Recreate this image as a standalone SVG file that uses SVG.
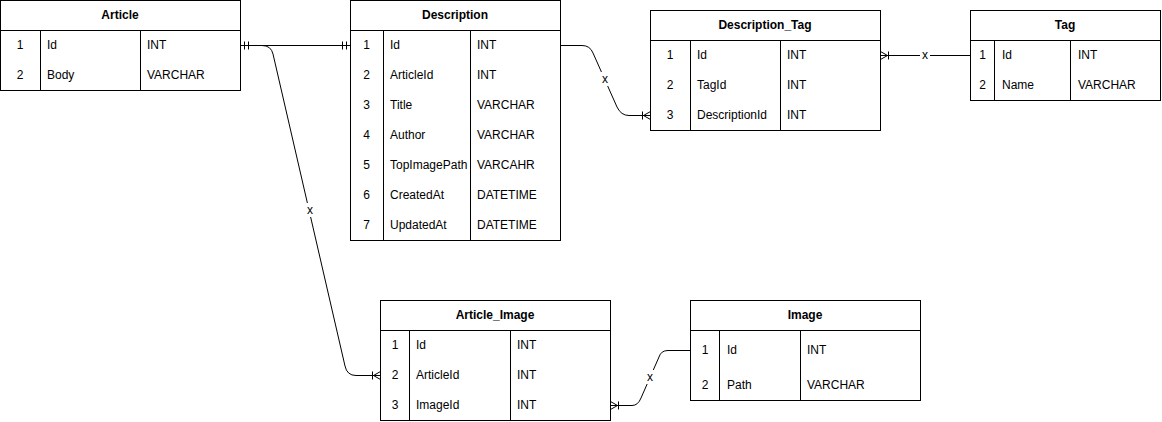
<svg xmlns="http://www.w3.org/2000/svg" width="1162" height="422" viewBox="0 0 1162 422">
<style>
  .box { fill: #ffffff; stroke: #000000; stroke-width: 1; }
  .ln { stroke: #000000; stroke-width: 1; fill: none; }
  .hd { font-family: "Liberation Sans", Arial, sans-serif; font-size: 12px; font-weight: bold; fill: #000; text-anchor: middle; }
  .t { font-family: "Liberation Sans", Arial, sans-serif; font-size: 12px; fill: #000; }
  .n { font-family: "Liberation Sans", Arial, sans-serif; font-size: 12px; fill: #000; text-anchor: middle; }
  .conn { stroke: #000000; stroke-width: 1; fill: none; }
  .lbl { font-family: "Liberation Sans", Arial, sans-serif; font-size: 12px; fill: #000; text-anchor: middle; }
  .lblbg { fill: #ffffff; }
</style>
<defs>
  <marker id="many" markerUnits="userSpaceOnUse" markerWidth="20" markerHeight="20" refX="0" refY="0" viewBox="-10 -10 20 20" orient="auto" overflow="visible">
    <path d="M-7,0 L0,-4 M-7,0 L0,4 M-8,-4 V4" stroke="#000" stroke-width="1" fill="none"/>
  </marker>
  <marker id="one" markerUnits="userSpaceOnUse" markerWidth="20" markerHeight="20" refX="0" refY="0" viewBox="-10 -10 20 20" orient="auto-start-reverse" overflow="visible">
    <path d="M-4,-4 V4 M-8,-4 V4" stroke="#000" stroke-width="1" fill="none"/>
  </marker>
</defs>

<g id="connectors">
  <path class="conn" d="M240.5,45.5 H350.5" marker-start="url(#one)" marker-end="url(#one)"/>
  <path class="conn" d="M240.5,45.5 H262 Q271,45.5 273,54 L345,366 Q347,375.5 356,375.5 H380.5" marker-end="url(#many)"/>
  <path class="conn" d="M560.5,45.5 H582 Q590,45.5 593,53 L617,107 Q621,115.5 629,115.5 H650.5" marker-end="url(#many)"/>
  <path class="conn" d="M970.5,55.5 H880.5" marker-end="url(#many)"/>
  <path class="conn" d="M690.5,350.5 H668 Q661,350.5 659,357 L641,398 Q638,405.5 632,405.5 H610.5" marker-end="url(#many)"/>
  <rect class="lblbg" x="305" y="203" width="10" height="14"/>
  <text class="lbl" x="310" y="214">x</text>
  <rect class="lblbg" x="600" y="72" width="10" height="14"/>
  <text class="lbl" x="605" y="83">x</text>
  <rect class="lblbg" x="920" y="48" width="10" height="14"/>
  <text class="lbl" x="925" y="59">x</text>
  <rect class="lblbg" x="645" y="370" width="10" height="14"/>
  <text class="lbl" x="650" y="381">x</text>
</g>

<g id="Article">
  <rect class="box" x="0.5" y="0.5" width="240" height="90"/>
  <path class="ln" d="M0.5,30.5 H240.5 M40.5,30.5 V90.5 M140.5,30.5 V90.5"/>
  <text class="hd" x="120" y="19">Article</text>
  <text class="n" x="20" y="49">1</text><text class="t" x="47" y="49">Id</text><text class="t" x="147" y="49">INT</text>
  <text class="n" x="20" y="79">2</text><text class="t" x="47" y="79">Body</text><text class="t" x="147" y="79">VARCHAR</text>
</g>

<g id="Description">
  <rect class="box" x="350.5" y="0.5" width="210" height="240"/>
  <path class="ln" d="M350.5,30.5 H560.5 M383.5,30.5 V240.5 M470.5,30.5 V240.5"/>
  <text class="hd" x="455" y="19">Description</text>
  <text class="n" x="366.5" y="49">1</text><text class="t" x="390" y="49">Id</text><text class="t" x="477" y="49">INT</text>
  <text class="n" x="366.5" y="79">2</text><text class="t" x="390" y="79">ArticleId</text><text class="t" x="477" y="79">INT</text>
  <text class="n" x="366.5" y="109">3</text><text class="t" x="390" y="109">Title</text><text class="t" x="477" y="109">VARCHAR</text>
  <text class="n" x="366.5" y="139">4</text><text class="t" x="390" y="139">Author</text><text class="t" x="477" y="139">VARCHAR</text>
  <text class="n" x="366.5" y="169">5</text><text class="t" x="390" y="169">TopImagePath</text><text class="t" x="477" y="169">VARCAHR</text>
  <text class="n" x="366.5" y="199">6</text><text class="t" x="390" y="199">CreatedAt</text><text class="t" x="477" y="199">DATETIME</text>
  <text class="n" x="366.5" y="229">7</text><text class="t" x="390" y="229">UpdatedAt</text><text class="t" x="477" y="229">DATETIME</text>
</g>

<g id="Description_Tag">
  <rect class="box" x="650.5" y="10.5" width="230" height="120"/>
  <path class="ln" d="M650.5,40.5 H880.5 M690.5,40.5 V130.5 M780.5,40.5 V130.5"/>
  <text class="hd" x="765" y="29">Description_Tag</text>
  <text class="n" x="670" y="59">1</text><text class="t" x="697" y="59">Id</text><text class="t" x="787" y="59">INT</text>
  <text class="n" x="670" y="89">2</text><text class="t" x="697" y="89">TagId</text><text class="t" x="787" y="89">INT</text>
  <text class="n" x="670" y="119">3</text><text class="t" x="697" y="119">DescriptionId</text><text class="t" x="787" y="119">INT</text>
</g>

<g id="Tag">
  <rect class="box" x="970.5" y="10.5" width="190" height="90"/>
  <path class="ln" d="M970.5,40.5 H1160.5 M994.5,40.5 V100.5 M1070.5,40.5 V100.5"/>
  <text class="hd" x="1065" y="29">Tag</text>
  <text class="n" x="982.5" y="59">1</text><text class="t" x="1002" y="59">Id</text><text class="t" x="1078" y="59">INT</text>
  <text class="n" x="982.5" y="89">2</text><text class="t" x="1002" y="89">Name</text><text class="t" x="1078" y="89">VARCHAR</text>
</g>

<g id="Article_Image">
  <rect class="box" x="380.5" y="300.5" width="230" height="120"/>
  <path class="ln" d="M380.5,330.5 H610.5 M409.5,330.5 V420.5 M510.5,330.5 V420.5"/>
  <text class="hd" x="495" y="319">Article_Image</text>
  <text class="n" x="395" y="349">1</text><text class="t" x="416" y="349">Id</text><text class="t" x="517" y="349">INT</text>
  <text class="n" x="395" y="379">2</text><text class="t" x="416" y="379">ArticleId</text><text class="t" x="517" y="379">INT</text>
  <text class="n" x="395" y="409">3</text><text class="t" x="416" y="409">ImageId</text><text class="t" x="517" y="409">INT</text>
</g>

<g id="Image">
  <rect class="box" x="690.5" y="300.5" width="230" height="100"/>
  <path class="ln" d="M690.5,330.5 H920.5 M719.5,330.5 V400.5 M800.5,330.5 V400.5"/>
  <text class="hd" x="805" y="319">Image</text>
  <text class="n" x="705" y="354">1</text><text class="t" x="727" y="354">Id</text><text class="t" x="807" y="354">INT</text>
  <text class="n" x="705" y="389">2</text><text class="t" x="727" y="389">Path</text><text class="t" x="807" y="389">VARCHAR</text>
</g>
</svg>
